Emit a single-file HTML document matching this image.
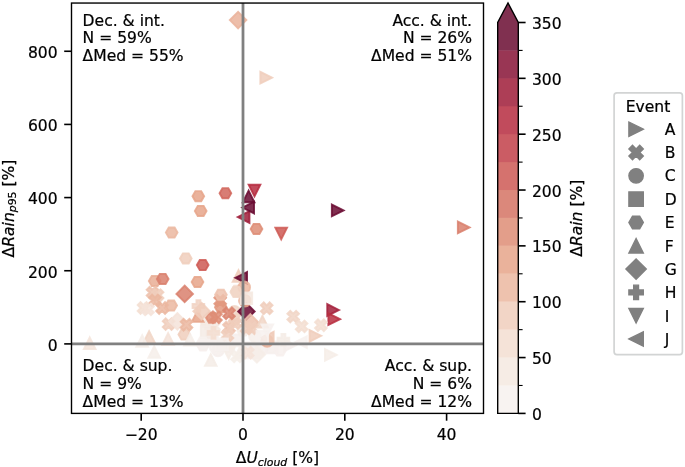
<!DOCTYPE html>
<html lang="en"><head><meta charset="utf-8"><title>Figure</title>
<style>html,body{margin:0;padding:0;background:#fff}svg{display:block}</style>
</head><body>
<svg width="685" height="467" viewBox="0 0 685 467" font-family="'DejaVu Sans', 'Liberation Sans', sans-serif" font-size="15.55" fill="#000"><style>text{stroke:#000;stroke-width:0.22px}</style>
<rect width="685" height="467" fill="#fff"/>
<defs><clipPath id="axclip"><rect x="71.5" y="3.05" width="412.00" height="410.35"/></clipPath></defs>
<g id="pts" clip-path="url(#axclip)">
<path d="M206.15,344.25 L217.85,344.25 L217.85,332.55 L206.15,332.55Z" fill="#f6efec" fill-opacity="0.85" stroke="#f6efec" stroke-opacity="0.85" stroke-width="1.9" stroke-linejoin="miter"/>
<path d="M208.85,345.40 L205.93,340.33 L200.07,340.33 L197.15,345.40 L200.07,350.47 L205.93,350.47Z" fill="#f6efec" fill-opacity="0.85" stroke="#f6efec" stroke-opacity="0.85" stroke-width="1.9" stroke-linejoin="miter"/>
<circle cx="218.00" cy="350.40" r="5.85" fill="#f6efec" fill-opacity="0.85" stroke="#f6efec" stroke-opacity="0.85" stroke-width="1.9"/>
<path d="M222.05,348.25 L225.95,348.25 L225.95,344.35 L229.85,344.35 L229.85,340.45 L225.95,340.45 L225.95,336.55 L222.05,336.55 L222.05,340.45 L218.15,340.45 L218.15,344.35 L222.05,344.35Z" fill="#f6eeea" fill-opacity="0.85" stroke="#f6eeea" stroke-opacity="0.85" stroke-width="1.9" stroke-linejoin="miter"/>
<path d="M230.15,346.25 L241.85,346.25 L241.85,334.55 L230.15,334.55Z" fill="#f6efec" fill-opacity="0.85" stroke="#f6efec" stroke-opacity="0.85" stroke-width="1.9" stroke-linejoin="miter"/>
<path d="M240.00,346.55 L234.15,358.25 L245.85,358.25Z" fill="#f6eeea" fill-opacity="0.85" stroke="#f6eeea" stroke-opacity="0.85" stroke-width="1.9" stroke-linejoin="miter"/>
<path d="M250.00,354.25 L244.15,342.55 L255.85,342.55Z" fill="#f6efec" fill-opacity="0.85" stroke="#f6efec" stroke-opacity="0.85" stroke-width="1.9" stroke-linejoin="miter"/>
<path d="M262.00,355.67 L270.27,347.40 L262.00,339.13 L253.73,347.40Z" fill="#f6efec" fill-opacity="0.85" stroke="#f6efec" stroke-opacity="0.85" stroke-width="1.9" stroke-linejoin="miter"/>
<circle cx="255.00" cy="336.40" r="5.85" fill="#f6eeea" fill-opacity="0.85" stroke="#f6eeea" stroke-opacity="0.85" stroke-width="1.9"/>
<path d="M266.15,353.25 L277.85,353.25 L277.85,341.55 L266.15,341.55Z" fill="#f6efec" fill-opacity="0.85" stroke="#f6efec" stroke-opacity="0.85" stroke-width="1.9" stroke-linejoin="miter"/>
<path d="M285.85,350.40 L282.93,345.33 L277.07,345.33 L274.15,350.40 L277.07,355.47 L282.93,355.47Z" fill="#f7f0ed" fill-opacity="0.85" stroke="#f7f0ed" stroke-opacity="0.85" stroke-width="1.9" stroke-linejoin="miter"/>
<path d="M295.85,345.40 L284.15,339.55 L284.15,351.25Z" fill="#f6efec" fill-opacity="0.85" stroke="#f6efec" stroke-opacity="0.85" stroke-width="1.9" stroke-linejoin="miter"/>
<path d="M234.07,362.25 L237.00,359.32 L239.93,362.25 L242.85,359.32 L239.93,356.40 L242.85,353.47 L239.93,350.55 L237.00,353.47 L234.07,350.55 L231.15,353.47 L234.07,356.40 L231.15,359.32Z" fill="#f6eee9" fill-opacity="0.85" stroke="#f6eee9" stroke-opacity="0.85" stroke-width="1.9" stroke-linejoin="miter"/>
<path d="M211.07,332.25 L214.00,329.32 L216.93,332.25 L219.85,329.32 L216.93,326.40 L219.85,323.47 L216.93,320.55 L214.00,323.47 L211.07,320.55 L208.15,323.47 L211.07,326.40 L208.15,329.32Z" fill="#f4e9e0" fill-opacity="0.85" stroke="#f4e9e0" stroke-opacity="0.85" stroke-width="1.9" stroke-linejoin="miter"/>
<path d="M205.05,329.25 L208.95,329.25 L208.95,325.35 L212.85,325.35 L212.85,321.45 L208.95,321.45 L208.95,317.55 L205.05,317.55 L205.05,321.45 L201.15,321.45 L201.15,325.35 L205.05,325.35Z" fill="#f4e9e0" fill-opacity="0.85" stroke="#f4e9e0" stroke-opacity="0.85" stroke-width="1.9" stroke-linejoin="miter"/>
<path d="M248.85,330.40 L245.93,325.33 L240.07,325.33 L237.15,330.40 L240.07,335.47 L245.93,335.47Z" fill="#f6ede7" fill-opacity="0.85" stroke="#f6ede7" stroke-opacity="0.85" stroke-width="1.9" stroke-linejoin="miter"/>
<path d="M248.15,358.25 L259.85,358.25 L259.85,346.55 L248.15,346.55Z" fill="#f6efec" fill-opacity="0.85" stroke="#f6efec" stroke-opacity="0.85" stroke-width="1.9" stroke-linejoin="miter"/>
<circle cx="229.00" cy="346.40" r="5.85" fill="#f6efec" fill-opacity="0.85" stroke="#f6efec" stroke-opacity="0.85" stroke-width="1.9"/>
<path d="M238.10,28.37 L246.37,20.10 L238.10,11.83 L229.83,20.10Z" fill="#eab39b" fill-opacity="0.85" stroke="#eab39b" stroke-opacity="0.85" stroke-width="1.9" stroke-linejoin="miter"/>
<path d="M272.05,77.70 L260.35,71.85 L260.35,83.55Z" fill="#f0cebc" fill-opacity="0.85" stroke="#f0cebc" stroke-opacity="0.85" stroke-width="1.9" stroke-linejoin="miter"/>
<path d="M469.55,227.40 L457.85,221.55 L457.85,233.25Z" fill="#d9806d" fill-opacity="0.85" stroke="#d9806d" stroke-opacity="0.85" stroke-width="1.9" stroke-linejoin="miter"/>
<path d="M343.55,210.40 L331.85,204.55 L331.85,216.25Z" fill="#6a0b31" fill-opacity="0.85" stroke="#6a0b31" stroke-opacity="0.85" stroke-width="1.9" stroke-linejoin="miter"/>
<path d="M338.95,310.00 L327.25,304.15 L327.25,315.85Z" fill="#a31f3a" fill-opacity="0.85" stroke="#a31f3a" stroke-opacity="0.85" stroke-width="1.9" stroke-linejoin="miter"/>
<path d="M340.05,319.20 L328.35,313.35 L328.35,325.05Z" fill="#b82f41" fill-opacity="0.85" stroke="#b82f41" stroke-opacity="0.85" stroke-width="1.9" stroke-linejoin="miter"/>
<path d="M204.15,196.20 L201.23,191.13 L195.38,191.13 L192.45,196.20 L195.38,201.27 L201.23,201.27Z" fill="#e6a489" fill-opacity="0.85" stroke="#e6a489" stroke-opacity="0.85" stroke-width="1.9" stroke-linejoin="miter"/>
<path d="M231.25,193.20 L228.33,188.13 L222.47,188.13 L219.55,193.20 L222.47,198.27 L228.33,198.27Z" fill="#d1665c" fill-opacity="0.85" stroke="#d1665c" stroke-opacity="0.85" stroke-width="1.9" stroke-linejoin="miter"/>
<path d="M206.55,210.90 L203.62,205.83 L197.77,205.83 L194.85,210.90 L197.77,215.97 L203.62,215.97Z" fill="#e6a489" fill-opacity="0.85" stroke="#e6a489" stroke-opacity="0.85" stroke-width="1.9" stroke-linejoin="miter"/>
<path d="M177.55,232.60 L174.62,227.53 L168.77,227.53 L165.85,232.60 L168.77,237.67 L174.62,237.67Z" fill="#ebb7a0" fill-opacity="0.85" stroke="#ebb7a0" stroke-opacity="0.85" stroke-width="1.9" stroke-linejoin="miter"/>
<path d="M237.75,217.00 L249.45,211.15 L249.45,222.85Z" fill="#9f1c38" fill-opacity="0.85" stroke="#9f1c38" stroke-opacity="0.85" stroke-width="1.9" stroke-linejoin="miter"/>
<path d="M242.35,207.60 L254.05,201.75 L254.05,213.45Z" fill="#6a0b31" fill-opacity="0.85" stroke="#6a0b31" stroke-opacity="0.85" stroke-width="1.9" stroke-linejoin="miter"/>
<path d="M248.60,190.55 L242.75,202.25 L254.45,202.25Z" fill="#6a0b31" fill-opacity="0.85" stroke="#6a0b31" stroke-opacity="0.85" stroke-width="1.9" stroke-linejoin="miter"/>
<path d="M254.50,196.45 L248.65,184.75 L260.35,184.75Z" fill="#b62b3f" fill-opacity="0.85" stroke="#b62b3f" stroke-opacity="0.85" stroke-width="1.9" stroke-linejoin="miter"/>
<path d="M262.35,228.90 L259.43,223.83 L253.57,223.83 L250.65,228.90 L253.57,233.97 L259.43,233.97Z" fill="#de8d75" fill-opacity="0.85" stroke="#de8d75" stroke-opacity="0.85" stroke-width="1.9" stroke-linejoin="miter"/>
<path d="M281.20,239.35 L275.35,227.65 L287.05,227.65Z" fill="#ce5954" fill-opacity="0.85" stroke="#ce5954" stroke-opacity="0.85" stroke-width="1.9" stroke-linejoin="miter"/>
<path d="M191.65,258.40 L188.73,253.33 L182.88,253.33 L179.95,258.40 L182.88,263.47 L188.73,263.47Z" fill="#f0cebc" fill-opacity="0.85" stroke="#f0cebc" stroke-opacity="0.85" stroke-width="1.9" stroke-linejoin="miter"/>
<path d="M208.55,265.10 L205.62,260.03 L199.77,260.03 L196.85,265.10 L199.77,270.17 L205.62,270.17Z" fill="#ce5954" fill-opacity="0.85" stroke="#ce5954" stroke-opacity="0.85" stroke-width="1.9" stroke-linejoin="miter"/>
<path d="M160.55,281.10 L157.62,276.03 L151.77,276.03 L148.85,281.10 L151.77,286.17 L157.62,286.17Z" fill="#e9ae95" fill-opacity="0.85" stroke="#e9ae95" stroke-opacity="0.85" stroke-width="1.9" stroke-linejoin="miter"/>
<path d="M168.55,278.90 L165.62,273.83 L159.77,273.83 L156.85,278.90 L159.77,283.97 L165.62,283.97Z" fill="#d9806d" fill-opacity="0.85" stroke="#d9806d" stroke-opacity="0.85" stroke-width="1.9" stroke-linejoin="miter"/>
<path d="M203.35,281.90 L200.43,276.83 L194.57,276.83 L191.65,281.90 L194.57,286.97 L200.43,286.97Z" fill="#e6a489" fill-opacity="0.85" stroke="#e6a489" stroke-opacity="0.85" stroke-width="1.9" stroke-linejoin="miter"/>
<path d="M184.70,302.17 L192.97,293.90 L184.70,285.63 L176.43,293.90Z" fill="#d9806d" fill-opacity="0.85" stroke="#d9806d" stroke-opacity="0.85" stroke-width="1.9" stroke-linejoin="miter"/>
<path d="M238.50,270.05 L232.65,281.75 L244.35,281.75Z" fill="#f0cebc" fill-opacity="0.85" stroke="#f0cebc" stroke-opacity="0.85" stroke-width="1.9" stroke-linejoin="miter"/>
<path d="M235.35,277.80 L247.05,271.95 L247.05,283.65Z" fill="#6a0b31" fill-opacity="0.85" stroke="#6a0b31" stroke-opacity="0.85" stroke-width="1.9" stroke-linejoin="miter"/>
<path d="M242.85,290.80 L239.93,285.73 L234.07,285.73 L231.15,290.80 L234.07,295.87 L239.93,295.87Z" fill="#f3ded1" fill-opacity="0.85" stroke="#f3ded1" stroke-opacity="0.85" stroke-width="1.9" stroke-linejoin="miter"/>
<circle cx="244.20" cy="287.40" r="5.85" fill="#ebb7a0" fill-opacity="0.85" stroke="#ebb7a0" stroke-opacity="0.85" stroke-width="1.9"/>
<path d="M217.27,306.65 L220.20,303.72 L223.12,306.65 L226.05,303.72 L223.12,300.80 L226.05,297.87 L223.12,294.95 L220.20,297.87 L217.27,294.95 L214.35,297.87 L217.27,300.80 L214.35,303.72Z" fill="#e1947b" fill-opacity="0.85" stroke="#e1947b" stroke-opacity="0.85" stroke-width="1.9" stroke-linejoin="miter"/>
<path d="M226.65,307.20 L223.73,302.13 L217.88,302.13 L214.95,307.20 L217.88,312.27 L223.73,312.27Z" fill="#e2997f" fill-opacity="0.85" stroke="#e2997f" stroke-opacity="0.85" stroke-width="1.9" stroke-linejoin="miter"/>
<path d="M226.75,294.70 L223.83,289.63 L217.97,289.63 L215.05,294.70 L217.97,299.77 L223.83,299.77Z" fill="#edc2ae" fill-opacity="0.85" stroke="#edc2ae" stroke-opacity="0.85" stroke-width="1.9" stroke-linejoin="miter"/>
<path d="M231.38,324.75 L234.30,321.82 L237.23,324.75 L240.15,321.82 L237.23,318.90 L240.15,315.97 L237.23,313.05 L234.30,315.97 L231.38,313.05 L228.45,315.97 L231.38,318.90 L228.45,321.82Z" fill="#f0cebc" fill-opacity="0.85" stroke="#f0cebc" stroke-opacity="0.85" stroke-width="1.9" stroke-linejoin="miter"/>
<path d="M226.07,333.65 L229.00,330.72 L231.93,333.65 L234.85,330.72 L231.93,327.80 L234.85,324.87 L231.93,321.95 L229.00,324.87 L226.07,321.95 L223.15,324.87 L226.07,327.80 L223.15,330.72Z" fill="#edc2ae" fill-opacity="0.85" stroke="#edc2ae" stroke-opacity="0.85" stroke-width="1.9" stroke-linejoin="miter"/>
<path d="M232.07,328.95 L235.00,326.02 L237.93,328.95 L240.85,326.02 L237.93,323.10 L240.85,320.17 L237.93,317.25 L235.00,320.17 L232.07,317.25 L229.15,320.17 L232.07,323.10 L229.15,326.02Z" fill="#f0cebc" fill-opacity="0.85" stroke="#f0cebc" stroke-opacity="0.85" stroke-width="1.9" stroke-linejoin="miter"/>
<path d="M217.75,317.70 L214.83,312.63 L208.97,312.63 L206.05,317.70 L208.97,322.77 L214.83,322.77Z" fill="#de8d75" fill-opacity="0.85" stroke="#de8d75" stroke-opacity="0.85" stroke-width="1.9" stroke-linejoin="miter"/>
<path d="M212.97,323.05 L215.90,320.12 L218.83,323.05 L221.75,320.12 L218.83,317.20 L221.75,314.27 L218.83,311.35 L215.90,314.27 L212.97,311.35 L210.05,314.27 L212.97,317.20 L210.05,320.12Z" fill="#de8d75" fill-opacity="0.85" stroke="#de8d75" stroke-opacity="0.85" stroke-width="1.9" stroke-linejoin="miter"/>
<circle cx="234.50" cy="311.90" r="5.85" fill="#f1d6c7" fill-opacity="0.85" stroke="#f1d6c7" stroke-opacity="0.85" stroke-width="1.9"/>
<path d="M226.07,319.15 L229.00,316.22 L231.93,319.15 L234.85,316.22 L231.93,313.30 L234.85,310.37 L231.93,307.45 L229.00,310.37 L226.07,307.45 L223.15,310.37 L226.07,313.30 L223.15,316.22Z" fill="#db8570" fill-opacity="0.85" stroke="#db8570" stroke-opacity="0.85" stroke-width="1.9" stroke-linejoin="miter"/>
<path d="M246.40,319.67 L254.67,311.40 L246.40,303.13 L238.13,311.40Z" fill="#6a0b31" fill-opacity="0.85" stroke="#6a0b31" stroke-opacity="0.85" stroke-width="1.9" stroke-linejoin="miter"/>
<circle cx="245.00" cy="300.70" r="5.85" fill="#e6a489" fill-opacity="0.85" stroke="#e6a489" stroke-opacity="0.85" stroke-width="1.9"/>
<path d="M240.45,304.15 L252.15,304.15 L252.15,292.45 L240.45,292.45Z" fill="#f4e9e0" fill-opacity="0.85" stroke="#f4e9e0" stroke-opacity="0.85" stroke-width="1.9" stroke-linejoin="miter"/>
<path d="M250.30,330.67 L258.57,322.40 L250.30,314.13 L242.03,322.40Z" fill="#edc2ae" fill-opacity="0.85" stroke="#edc2ae" stroke-opacity="0.85" stroke-width="1.9" stroke-linejoin="miter"/>
<path d="M263.77,314.15 L266.70,311.22 L269.62,314.15 L272.55,311.22 L269.62,308.30 L272.55,305.37 L269.62,302.45 L266.70,305.37 L263.77,302.45 L260.85,305.37 L263.77,308.30 L260.85,311.22Z" fill="#f0cebc" fill-opacity="0.85" stroke="#f0cebc" stroke-opacity="0.85" stroke-width="1.9" stroke-linejoin="miter"/>
<path d="M262.40,315.85 L256.55,327.55 L268.25,327.55Z" fill="#f1d6c7" fill-opacity="0.85" stroke="#f1d6c7" stroke-opacity="0.85" stroke-width="1.9" stroke-linejoin="miter"/>
<path d="M177.05,305.60 L174.12,300.53 L168.27,300.53 L165.35,305.60 L168.27,310.67 L174.12,310.67Z" fill="#ebb7a0" fill-opacity="0.85" stroke="#ebb7a0" stroke-opacity="0.85" stroke-width="1.9" stroke-linejoin="miter"/>
<path d="M149.57,298.45 L152.50,295.52 L155.43,298.45 L158.35,295.52 L155.43,292.60 L158.35,289.67 L155.43,286.75 L152.50,289.67 L149.57,286.75 L146.65,289.67 L149.57,292.60 L146.65,295.52Z" fill="#edc2ae" fill-opacity="0.85" stroke="#edc2ae" stroke-opacity="0.85" stroke-width="1.9" stroke-linejoin="miter"/>
<path d="M154.67,301.05 L157.60,298.12 L160.53,301.05 L163.45,298.12 L160.53,295.20 L163.45,292.27 L160.53,289.35 L157.60,292.27 L154.67,289.35 L151.75,292.27 L154.67,295.20 L151.75,298.12Z" fill="#f0cebc" fill-opacity="0.85" stroke="#f0cebc" stroke-opacity="0.85" stroke-width="1.9" stroke-linejoin="miter"/>
<path d="M152.07,306.25 L155.00,303.32 L157.93,306.25 L160.85,303.32 L157.93,300.40 L160.85,297.47 L157.93,294.55 L155.00,297.47 L152.07,294.55 L149.15,297.47 L152.07,300.40 L149.15,303.32Z" fill="#ebb7a0" fill-opacity="0.85" stroke="#ebb7a0" stroke-opacity="0.85" stroke-width="1.9" stroke-linejoin="miter"/>
<path d="M159.17,313.85 L162.10,310.93 L165.03,313.85 L167.95,310.93 L165.03,308.00 L167.95,305.07 L165.03,302.15 L162.10,305.07 L159.17,302.15 L156.25,305.07 L159.17,308.00 L156.25,310.93Z" fill="#ebb7a0" fill-opacity="0.85" stroke="#ebb7a0" stroke-opacity="0.85" stroke-width="1.9" stroke-linejoin="miter"/>
<path d="M140.57,313.85 L143.50,310.93 L146.43,313.85 L149.35,310.93 L146.43,308.00 L149.35,305.07 L146.43,302.15 L143.50,305.07 L140.57,302.15 L137.65,305.07 L140.57,308.00 L137.65,310.93Z" fill="#f3ded1" fill-opacity="0.85" stroke="#f3ded1" stroke-opacity="0.85" stroke-width="1.9" stroke-linejoin="miter"/>
<path d="M145.07,315.25 L148.00,312.32 L150.93,315.25 L153.85,312.32 L150.93,309.40 L153.85,306.47 L150.93,303.55 L148.00,306.47 L145.07,303.55 L142.15,306.47 L145.07,309.40 L142.15,312.32Z" fill="#f4e3d9" fill-opacity="0.85" stroke="#f4e3d9" stroke-opacity="0.85" stroke-width="1.9" stroke-linejoin="miter"/>
<path d="M165.67,329.95 L168.60,327.02 L171.53,329.95 L174.45,327.02 L171.53,324.10 L174.45,321.17 L171.53,318.25 L168.60,321.17 L165.67,318.25 L162.75,321.17 L165.67,324.10 L162.75,327.02Z" fill="#f0cebc" fill-opacity="0.85" stroke="#f0cebc" stroke-opacity="0.85" stroke-width="1.9" stroke-linejoin="miter"/>
<path d="M197.70,310.15 L191.85,321.85 L203.55,321.85Z" fill="#e6a489" fill-opacity="0.85" stroke="#e6a489" stroke-opacity="0.85" stroke-width="1.9" stroke-linejoin="miter"/>
<path d="M196.45,311.85 L200.35,311.85 L200.35,307.95 L204.25,307.95 L204.25,304.05 L200.35,304.05 L200.35,300.15 L196.45,300.15 L196.45,304.05 L192.55,304.05 L192.55,307.95 L196.45,307.95Z" fill="#f1d4c4" fill-opacity="0.85" stroke="#f1d4c4" stroke-opacity="0.85" stroke-width="1.9" stroke-linejoin="miter"/>
<path d="M201.60,319.47 L209.87,311.20 L201.60,302.93 L193.33,311.20Z" fill="#f0cebc" fill-opacity="0.85" stroke="#f0cebc" stroke-opacity="0.85" stroke-width="1.9" stroke-linejoin="miter"/>
<path d="M177.40,329.67 L185.67,321.40 L177.40,313.13 L169.13,321.40Z" fill="#f4e3d9" fill-opacity="0.85" stroke="#f4e3d9" stroke-opacity="0.85" stroke-width="1.9" stroke-linejoin="miter"/>
<path d="M190.15,334.60 L187.23,329.53 L181.38,329.53 L178.45,334.60 L181.38,339.67 L187.23,339.67Z" fill="#f0cebc" fill-opacity="0.85" stroke="#f0cebc" stroke-opacity="0.85" stroke-width="1.9" stroke-linejoin="miter"/>
<path d="M190.00,333.95 L184.15,345.65 L195.85,345.65Z" fill="#f6eeea" fill-opacity="0.85" stroke="#f6eeea" stroke-opacity="0.85" stroke-width="1.9" stroke-linejoin="miter"/>
<path d="M183.57,330.55 L186.50,327.62 L189.43,330.55 L192.35,327.62 L189.43,324.70 L192.35,321.77 L189.43,318.85 L186.50,321.77 L183.57,318.85 L180.65,321.77 L183.57,324.70 L180.65,327.62Z" fill="#ebb7a0" fill-opacity="0.85" stroke="#ebb7a0" stroke-opacity="0.85" stroke-width="1.9" stroke-linejoin="miter"/>
<path d="M242.15,292.00 L239.23,286.93 L233.38,286.93 L230.45,292.00 L233.38,297.07 L239.23,297.07Z" fill="#f1d6c7" fill-opacity="0.85" stroke="#f1d6c7" stroke-opacity="0.85" stroke-width="1.9" stroke-linejoin="miter"/>
<path d="M224.57,340.95 L227.50,338.02 L230.43,340.95 L233.35,338.02 L230.43,335.10 L233.35,332.17 L230.43,329.25 L227.50,332.17 L224.57,329.25 L221.65,332.17 L224.57,335.10 L221.65,338.02Z" fill="#f0cebc" fill-opacity="0.85" stroke="#f0cebc" stroke-opacity="0.85" stroke-width="1.9" stroke-linejoin="miter"/>
<path d="M200.85,337.95 L212.55,337.95 L212.55,326.25 L200.85,326.25Z" fill="#f5ebe5" fill-opacity="0.85" stroke="#f5ebe5" stroke-opacity="0.85" stroke-width="1.9" stroke-linejoin="miter"/>
<path d="M168.10,333.05 L162.25,344.75 L173.95,344.75Z" fill="#f4e3d9" fill-opacity="0.85" stroke="#f4e3d9" stroke-opacity="0.85" stroke-width="1.9" stroke-linejoin="miter"/>
<path d="M210.80,354.15 L204.95,365.85 L216.65,365.85Z" fill="#f5ece6" fill-opacity="0.85" stroke="#f5ece6" stroke-opacity="0.85" stroke-width="1.9" stroke-linejoin="miter"/>
<path d="M228.60,358.95 L222.75,347.25 L234.45,347.25Z" fill="#f6ede7" fill-opacity="0.85" stroke="#f6ede7" stroke-opacity="0.85" stroke-width="1.9" stroke-linejoin="miter"/>
<path d="M208.75,342.40 L205.83,337.33 L199.97,337.33 L197.05,342.40 L199.97,347.47 L205.83,347.47Z" fill="#f7f1ef" fill-opacity="0.85" stroke="#f7f1ef" stroke-opacity="0.85" stroke-width="1.9" stroke-linejoin="miter"/>
<circle cx="215.70" cy="347.50" r="5.85" fill="#f7f1ef" fill-opacity="0.85" stroke="#f7f1ef" stroke-opacity="0.85" stroke-width="1.9"/>
<path d="M216.15,350.25 L227.85,350.25 L227.85,338.55 L216.15,338.55Z" fill="#f7f1ef" fill-opacity="0.85" stroke="#f7f1ef" stroke-opacity="0.85" stroke-width="1.9" stroke-linejoin="miter"/>
<path d="M211.55,338.75 L215.45,338.75 L215.45,334.85 L219.35,334.85 L219.35,330.95 L215.45,330.95 L215.45,327.05 L211.55,327.05 L211.55,330.95 L207.65,330.95 L207.65,334.85 L211.55,334.85Z" fill="#f3ded1" fill-opacity="0.85" stroke="#f3ded1" stroke-opacity="0.85" stroke-width="1.9" stroke-linejoin="miter"/>
<path d="M248.57,334.25 L251.50,331.32 L254.43,334.25 L257.35,331.32 L254.43,328.40 L257.35,325.47 L254.43,322.55 L251.50,325.47 L248.57,322.55 L245.65,325.47 L248.57,328.40 L245.65,331.32Z" fill="#f0cebc" fill-opacity="0.85" stroke="#f0cebc" stroke-opacity="0.85" stroke-width="1.9" stroke-linejoin="miter"/>
<path d="M89.70,337.35 L83.85,349.05 L95.55,349.05Z" fill="#f4e5dc" fill-opacity="0.85" stroke="#f4e5dc" stroke-opacity="0.85" stroke-width="1.9" stroke-linejoin="miter"/>
<path d="M149.10,331.15 L143.25,342.85 L154.95,342.85Z" fill="#f1d6c7" fill-opacity="0.85" stroke="#f1d6c7" stroke-opacity="0.85" stroke-width="1.9" stroke-linejoin="miter"/>
<path d="M142.20,335.05 L136.35,346.75 L148.05,346.75Z" fill="#f6eeea" fill-opacity="0.85" stroke="#f6eeea" stroke-opacity="0.85" stroke-width="1.9" stroke-linejoin="miter"/>
<path d="M154.20,346.05 L148.35,357.75 L160.05,357.75Z" fill="#f6eeea" fill-opacity="0.85" stroke="#f6eeea" stroke-opacity="0.85" stroke-width="1.9" stroke-linejoin="miter"/>
<path d="M290.27,322.45 L293.20,319.52 L296.12,322.45 L299.05,319.52 L296.12,316.60 L299.05,313.67 L296.12,310.75 L293.20,313.67 L290.27,310.75 L287.35,313.67 L290.27,316.60 L287.35,319.52Z" fill="#f1d6c7" fill-opacity="0.85" stroke="#f1d6c7" stroke-opacity="0.85" stroke-width="1.9" stroke-linejoin="miter"/>
<path d="M298.68,332.25 L301.60,329.32 L304.53,332.25 L307.45,329.32 L304.53,326.40 L307.45,323.47 L304.53,320.55 L301.60,323.47 L298.68,320.55 L295.75,323.47 L298.68,326.40 L295.75,329.32Z" fill="#f3ded1" fill-opacity="0.85" stroke="#f3ded1" stroke-opacity="0.85" stroke-width="1.9" stroke-linejoin="miter"/>
<path d="M317.97,331.05 L320.90,328.12 L323.82,331.05 L326.75,328.12 L323.82,325.20 L326.75,322.27 L323.82,319.35 L320.90,322.27 L317.97,319.35 L315.05,322.27 L317.97,325.20 L315.05,328.12Z" fill="#f3ded1" fill-opacity="0.85" stroke="#f3ded1" stroke-opacity="0.85" stroke-width="1.9" stroke-linejoin="miter"/>
<path d="M321.25,335.80 L309.55,329.95 L309.55,341.65Z" fill="#f0cebc" fill-opacity="0.85" stroke="#f0cebc" stroke-opacity="0.85" stroke-width="1.9" stroke-linejoin="miter"/>
<path d="M336.65,354.90 L324.95,349.05 L324.95,360.75Z" fill="#f6ede7" fill-opacity="0.85" stroke="#f6ede7" stroke-opacity="0.85" stroke-width="1.9" stroke-linejoin="miter"/>
<path d="M295.15,342.10 L306.85,336.25 L306.85,347.95Z" fill="#f7f1ef" fill-opacity="0.85" stroke="#f7f1ef" stroke-opacity="0.85" stroke-width="1.9" stroke-linejoin="miter"/>
<path d="M281.45,345.55 L285.35,345.55 L285.35,341.65 L289.25,341.65 L289.25,337.75 L285.35,337.75 L285.35,333.85 L281.45,333.85 L281.45,337.75 L277.55,337.75 L277.55,341.65 L281.45,341.65Z" fill="#f5ece6" fill-opacity="0.85" stroke="#f5ece6" stroke-opacity="0.85" stroke-width="1.9" stroke-linejoin="miter"/>
<circle cx="267.10" cy="341.00" r="5.85" fill="#eab39b" fill-opacity="0.85" stroke="#eab39b" stroke-opacity="0.85" stroke-width="1.9"/>
<path d="M261.95,337.60 L273.65,331.75 L273.65,343.45Z" fill="#efc9b6" fill-opacity="0.85" stroke="#efc9b6" stroke-opacity="0.85" stroke-width="1.9" stroke-linejoin="miter"/>
<path d="M256.45,342.45 L268.15,342.45 L268.15,330.75 L256.45,330.75Z" fill="#f7f1ef" fill-opacity="0.85" stroke="#f7f1ef" stroke-opacity="0.85" stroke-width="1.9" stroke-linejoin="miter"/>
<path d="M267.30,336.25 L261.45,324.55 L273.15,324.55Z" fill="#f7f1ef" fill-opacity="0.85" stroke="#f7f1ef" stroke-opacity="0.85" stroke-width="1.9" stroke-linejoin="miter"/>
<path d="M256.90,362.67 L265.17,354.40 L256.90,346.13 L248.63,354.40Z" fill="#f6ede7" fill-opacity="0.85" stroke="#f6ede7" stroke-opacity="0.85" stroke-width="1.9" stroke-linejoin="miter"/>
<path d="M244.88,358.55 L247.80,355.62 L250.73,358.55 L253.65,355.62 L250.73,352.70 L253.65,349.77 L250.73,346.85 L247.80,349.77 L244.88,346.85 L241.95,349.77 L244.88,352.70 L241.95,355.62Z" fill="#f4e3d9" fill-opacity="0.85" stroke="#f4e3d9" stroke-opacity="0.85" stroke-width="1.9" stroke-linejoin="miter"/>
<path d="M243.57,334.05 L246.50,331.12 L249.43,334.05 L252.35,331.12 L249.43,328.20 L252.35,325.27 L249.43,322.35 L246.50,325.27 L243.57,322.35 L240.65,325.27 L243.57,328.20 L240.65,331.12Z" fill="#f0cebc" fill-opacity="0.85" stroke="#f0cebc" stroke-opacity="0.85" stroke-width="1.9" stroke-linejoin="miter"/>
</g>
<line x1="243.0" y1="3.05" x2="243.0" y2="413.4" stroke="#808080" stroke-width="2.78"/>
<line x1="71.5" y1="343.9" x2="483.5" y2="343.9" stroke="#808080" stroke-width="2.78"/>
<rect x="71.5" y="3.05" width="412.0" height="410.34999999999997" fill="none" stroke="#000" stroke-width="1.39"/>
<line x1="141.20" y1="413.4" x2="141.20" y2="420.7" stroke="#000" stroke-width="1.6"/>
<text x="141.20" y="439.8" text-anchor="middle">−20</text>
<line x1="243.00" y1="413.4" x2="243.00" y2="420.7" stroke="#000" stroke-width="1.6"/>
<text x="243.00" y="439.8" text-anchor="middle">0</text>
<line x1="344.80" y1="413.4" x2="344.80" y2="420.7" stroke="#000" stroke-width="1.6"/>
<text x="344.80" y="439.8" text-anchor="middle">20</text>
<line x1="446.60" y1="413.4" x2="446.60" y2="420.7" stroke="#000" stroke-width="1.6"/>
<text x="446.60" y="439.8" text-anchor="middle">40</text>
<line x1="64.2" y1="343.90" x2="71.5" y2="343.90" stroke="#000" stroke-width="1.6"/>
<text x="57.6" y="350.70" text-anchor="end">0</text>
<line x1="64.2" y1="270.74" x2="71.5" y2="270.74" stroke="#000" stroke-width="1.6"/>
<text x="57.6" y="277.54" text-anchor="end">200</text>
<line x1="64.2" y1="197.58" x2="71.5" y2="197.58" stroke="#000" stroke-width="1.6"/>
<text x="57.6" y="204.38" text-anchor="end">400</text>
<line x1="64.2" y1="124.42" x2="71.5" y2="124.42" stroke="#000" stroke-width="1.6"/>
<text x="57.6" y="131.22" text-anchor="end">600</text>
<line x1="64.2" y1="51.26" x2="71.5" y2="51.26" stroke="#000" stroke-width="1.6"/>
<text x="57.6" y="58.06" text-anchor="end">800</text>
<text x="235.8" y="463.3" xml:space="preserve">Δ<tspan font-style="italic">U</tspan><tspan font-style="italic" font-size="10.88" dy="2.2">cloud</tspan><tspan dy="-2.2"> [%]</tspan></text>
<text transform="translate(13.8,208.5) rotate(-90)" text-anchor="middle" xml:space="preserve">Δ<tspan font-style="italic">Rain</tspan><tspan font-style="italic" font-size="10.88" dy="2.2">p</tspan><tspan font-size="10.88">95</tspan><tspan dy="-2.2"> [%]</tspan></text>
<text x="82.6" y="25.60" text-anchor="start">Dec. &amp; int.</text>
<text x="82.6" y="43.45" text-anchor="start">N = 59%</text>
<text x="82.6" y="61.30" text-anchor="start">ΔMed = 55%</text>
<text x="472" y="25.60" text-anchor="end">Acc. &amp; int.</text>
<text x="472" y="43.45" text-anchor="end">N = 26%</text>
<text x="472" y="61.30" text-anchor="end">ΔMed = 51%</text>
<text x="82.6" y="371.30" text-anchor="start">Dec. &amp; sup.</text>
<text x="82.6" y="389.15" text-anchor="start">N = 9%</text>
<text x="82.6" y="407.00" text-anchor="start">ΔMed = 13%</text>
<text x="472" y="371.30" text-anchor="end">Acc. &amp; sup.</text>
<text x="472" y="389.15" text-anchor="end">N = 6%</text>
<text x="472" y="407.00" text-anchor="end">ΔMed = 12%</text>
<rect x="497.7" y="385.18" width="20.599999999999966" height="28.22" fill="#f8f3f1"/>
<rect x="497.7" y="357.26" width="20.599999999999966" height="28.22" fill="#f6ece5"/>
<rect x="497.7" y="329.34" width="20.599999999999966" height="28.22" fill="#f5e3d8"/>
<rect x="497.7" y="301.41" width="20.599999999999966" height="28.22" fill="#f2d5c6"/>
<rect x="497.7" y="273.49" width="20.599999999999966" height="28.22" fill="#eec2ae"/>
<rect x="497.7" y="245.57" width="20.599999999999966" height="28.22" fill="#eab29b"/>
<rect x="497.7" y="217.65" width="20.599999999999966" height="28.22" fill="#e39e8a"/>
<rect x="497.7" y="189.73" width="20.599999999999966" height="28.22" fill="#db887b"/>
<rect x="497.7" y="161.81" width="20.599999999999966" height="28.22" fill="#d5726e"/>
<rect x="497.7" y="133.89" width="20.599999999999966" height="28.22" fill="#cb5c64"/>
<rect x="497.7" y="105.96" width="20.599999999999966" height="28.22" fill="#c14b5c"/>
<rect x="497.7" y="78.04" width="20.599999999999966" height="28.22" fill="#ad3e56"/>
<rect x="497.7" y="50.12" width="20.599999999999966" height="28.22" fill="#993654"/>
<rect x="497.7" y="22.20" width="20.599999999999966" height="28.22" fill="#803050"/>
<path d="M497.7,24.5 L497.7,22.5 L508.0,3.0 L518.3,22.5 L518.3,24.5Z" fill="#803050"/>
<path d="M497.7,413.4 L497.7,22.5 L508.0,3.0 L518.3,22.5 L518.3,413.4Z" fill="none" stroke="#000" stroke-width="1.39" stroke-linejoin="miter"/>
<line x1="518.3" y1="413.40" x2="525.5999999999999" y2="413.40" stroke="#000" stroke-width="1.6"/>
<text x="531.9" y="419.90">0</text>
<line x1="518.3" y1="385.48" x2="522.5999999999999" y2="385.48" stroke="#000" stroke-width="1.1"/>
<line x1="518.3" y1="357.56" x2="525.5999999999999" y2="357.56" stroke="#000" stroke-width="1.6"/>
<text x="531.9" y="364.06">50</text>
<line x1="518.3" y1="329.64" x2="522.5999999999999" y2="329.64" stroke="#000" stroke-width="1.1"/>
<line x1="518.3" y1="301.71" x2="525.5999999999999" y2="301.71" stroke="#000" stroke-width="1.6"/>
<text x="531.9" y="308.21">100</text>
<line x1="518.3" y1="273.79" x2="522.5999999999999" y2="273.79" stroke="#000" stroke-width="1.1"/>
<line x1="518.3" y1="245.87" x2="525.5999999999999" y2="245.87" stroke="#000" stroke-width="1.6"/>
<text x="531.9" y="252.37">150</text>
<line x1="518.3" y1="217.95" x2="522.5999999999999" y2="217.95" stroke="#000" stroke-width="1.1"/>
<line x1="518.3" y1="190.03" x2="525.5999999999999" y2="190.03" stroke="#000" stroke-width="1.6"/>
<text x="531.9" y="196.53">200</text>
<line x1="518.3" y1="162.11" x2="522.5999999999999" y2="162.11" stroke="#000" stroke-width="1.1"/>
<line x1="518.3" y1="134.19" x2="525.5999999999999" y2="134.19" stroke="#000" stroke-width="1.6"/>
<text x="531.9" y="140.69">250</text>
<line x1="518.3" y1="106.26" x2="522.5999999999999" y2="106.26" stroke="#000" stroke-width="1.1"/>
<line x1="518.3" y1="78.34" x2="525.5999999999999" y2="78.34" stroke="#000" stroke-width="1.6"/>
<text x="531.9" y="84.84">300</text>
<line x1="518.3" y1="50.42" x2="522.5999999999999" y2="50.42" stroke="#000" stroke-width="1.1"/>
<line x1="518.3" y1="22.50" x2="525.5999999999999" y2="22.50" stroke="#000" stroke-width="1.6"/>
<text x="531.9" y="29.00">350</text>
<text transform="translate(582,218.2) rotate(-90)" text-anchor="middle" xml:space="preserve">Δ<tspan font-style="italic">Rain</tspan> [%]</text>
<rect x="614.1" y="92.8" width="68.29999999999995" height="261.8" rx="2.8" ry="2.8" fill="#fff" stroke="#d2d4d4" stroke-width="1.7"/>
<text x="648.05" y="111.6" text-anchor="middle">Event</text>
<path d="M643.30,129.20 L628.90,122.00 L628.90,136.40Z" fill="#808080" fill-opacity="1.0" stroke="#808080" stroke-opacity="1.0" stroke-width="1.39" stroke-linejoin="miter"/>
<text x="664.7" y="134.70">A</text>
<path d="M632.50,159.71 L636.10,156.11 L639.70,159.71 L643.30,156.11 L639.70,152.51 L643.30,148.91 L639.70,145.31 L636.10,148.91 L632.50,145.31 L628.90,148.91 L632.50,152.51 L628.90,156.11Z" fill="#808080" fill-opacity="1.0" stroke="#808080" stroke-opacity="1.0" stroke-width="1.39" stroke-linejoin="miter"/>
<text x="664.7" y="158.06">B</text>
<circle cx="636.10" cy="175.82" r="7.20" fill="#808080" fill-opacity="1.0" stroke="#808080" stroke-opacity="1.0" stroke-width="1.39"/>
<text x="664.7" y="181.42">C</text>
<path d="M628.90,206.33 L643.30,206.33 L643.30,191.93 L628.90,191.93Z" fill="#808080" fill-opacity="1.0" stroke="#808080" stroke-opacity="1.0" stroke-width="1.39" stroke-linejoin="miter"/>
<text x="664.7" y="204.78">D</text>
<path d="M643.30,222.44 L639.70,216.20 L632.50,216.20 L628.90,222.44 L632.50,228.68 L639.70,228.68Z" fill="#808080" fill-opacity="1.0" stroke="#808080" stroke-opacity="1.0" stroke-width="1.39" stroke-linejoin="miter"/>
<text x="664.7" y="228.14">E</text>
<path d="M636.10,238.55 L628.90,252.95 L643.30,252.95Z" fill="#808080" fill-opacity="1.0" stroke="#808080" stroke-opacity="1.0" stroke-width="1.39" stroke-linejoin="miter"/>
<text x="664.7" y="251.50">F</text>
<path d="M636.10,279.24 L646.28,269.06 L636.10,258.88 L625.92,269.06Z" fill="#808080" fill-opacity="1.0" stroke="#808080" stroke-opacity="1.0" stroke-width="1.39" stroke-linejoin="miter"/>
<text x="664.7" y="274.86">G</text>
<path d="M633.70,299.57 L638.50,299.57 L638.50,294.77 L643.30,294.77 L643.30,289.97 L638.50,289.97 L638.50,285.17 L633.70,285.17 L633.70,289.97 L628.90,289.97 L628.90,294.77 L633.70,294.77Z" fill="#808080" fill-opacity="1.0" stroke="#808080" stroke-opacity="1.0" stroke-width="1.39" stroke-linejoin="miter"/>
<text x="664.7" y="298.22">H</text>
<path d="M636.10,322.88 L628.90,308.48 L643.30,308.48Z" fill="#808080" fill-opacity="1.0" stroke="#808080" stroke-opacity="1.0" stroke-width="1.39" stroke-linejoin="miter"/>
<text x="664.7" y="321.58">I</text>
<path d="M628.90,338.99 L643.30,331.79 L643.30,346.19Z" fill="#808080" fill-opacity="1.0" stroke="#808080" stroke-opacity="1.0" stroke-width="1.39" stroke-linejoin="miter"/>
<text x="664.7" y="344.94">J</text>
</svg>
</body></html>
